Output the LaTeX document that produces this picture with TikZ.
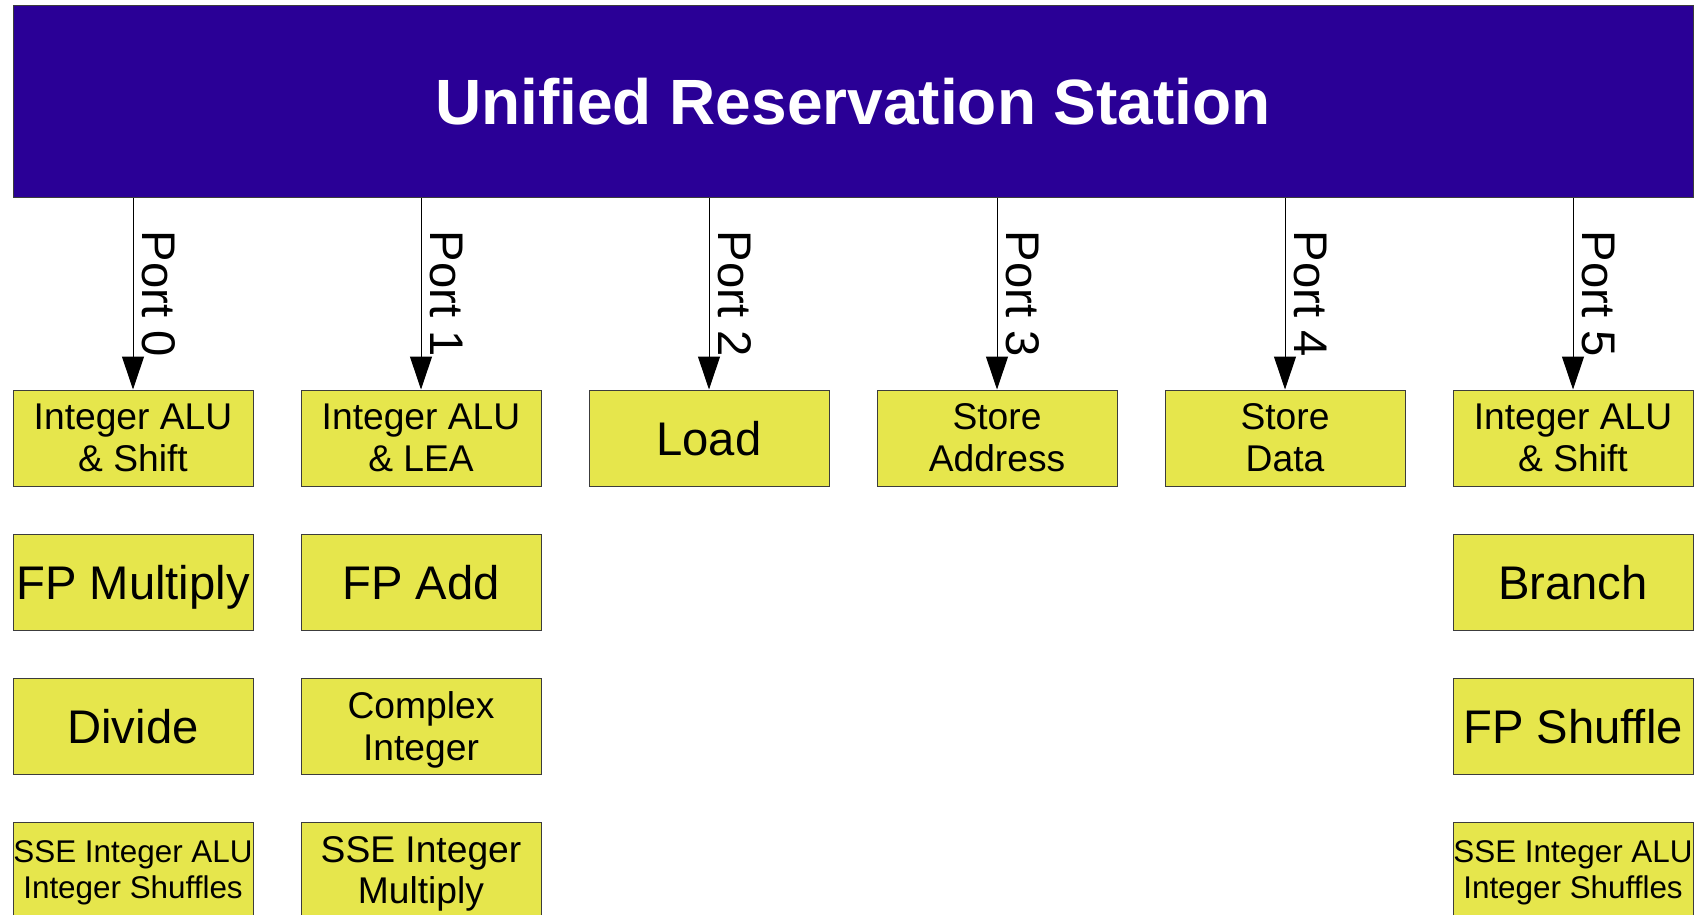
\documentclass[tikz,border=0pt]{standalone}
\usepackage{fontspec}
\setmainfont{Liberation Sans}
\usetikzlibrary{arrows.meta}
\definecolor{rsblue}{RGB}{42,0,150}
\definecolor{fuyellow}{RGB}{230,230,76}
\definecolor{edgegray}{RGB}{60,60,60}
\begin{document}
\begin{tikzpicture}[x=0.5pt,y=-0.5pt,
  fu/.style={draw=edgegray, line width=0.5pt, fill=fuyellow, minimum width=120pt,
    minimum height=48pt, inner sep=0pt, align=center, text=black, text depth=0pt},
  bigtext/.style={font=\fontsize{23.6}{27}\selectfont},
  midtext/.style={font=\fontsize{18.6}{21}\selectfont},
  smalltext/.style={font=\fontsize{15.7}{18}\selectfont},
  portarrow/.style={draw=black, line width=0.5pt, -{Triangle[length=16.5pt,width=11pt]}},
  portlabel/.style={rotate=-90, anchor=south, inner sep=4.5pt,
    font=\fontsize{23.6}{27}\selectfont}]
\useasboundingbox (0,0) rectangle (1704,915);
\clip (0,0) rectangle (1704,915);
\node[draw=edgegray, line width=0.5pt, fill=rsblue, minimum width=840pt, minimum height=96.2pt,
  inner sep=0pt, text=white, font=\fontsize{32}{38}\selectfont\bfseries] (rs) at (853,101.6)
  {Unified Reservation Station};
% row 1
\node[fu, midtext] (f0) at (133,438) {Integer ALU\\\& Shift};
\node[fu, midtext] (f1) at (421,438) {Integer ALU\\\& LEA};
\node[fu, bigtext] (f2) at (709,438) {Load};
\node[fu, midtext] (f3) at (997,438) {Store\\Address};
\node[fu, midtext] (f4) at (1285,438) {Store\\Data};
\node[fu, midtext] (f5) at (1573,438) {Integer ALU\\\& Shift};
% row 2
\node[fu, bigtext] (g0) at (133,582) {FP Multiply};
\node[fu, bigtext] (g1) at (421,582) {FP Add};
\node[fu, bigtext] (g5) at (1573,582) {Branch};
% row 3
\node[fu, bigtext] (h0) at (133,726) {Divide};
\node[fu, midtext] (h1) at (421,726) {Complex\\Integer};
\node[fu, bigtext] (h5) at (1573,726) {FP Shuffle};
% row 4
\node[fu, smalltext] (k0) at (133,870) {SSE Integer ALU\\Integer Shuffles};
\node[fu, font=\fontsize{18.6}{20.5}\selectfont] (k1) at (421,870) {SSE Integer\\Multiply};
\node[fu, smalltext] (k5) at (1573,870) {SSE Integer ALU\\Integer Shuffles};
% ports
\foreach \f/\p in {f0/0,f1/1,f2/2,f3/3,f4/4,f5/5}{
  \draw[portarrow] (rs.south -| \f.north) -- node[portlabel] {Port \p} (\f.north);
}
\end{tikzpicture}
\end{document}
